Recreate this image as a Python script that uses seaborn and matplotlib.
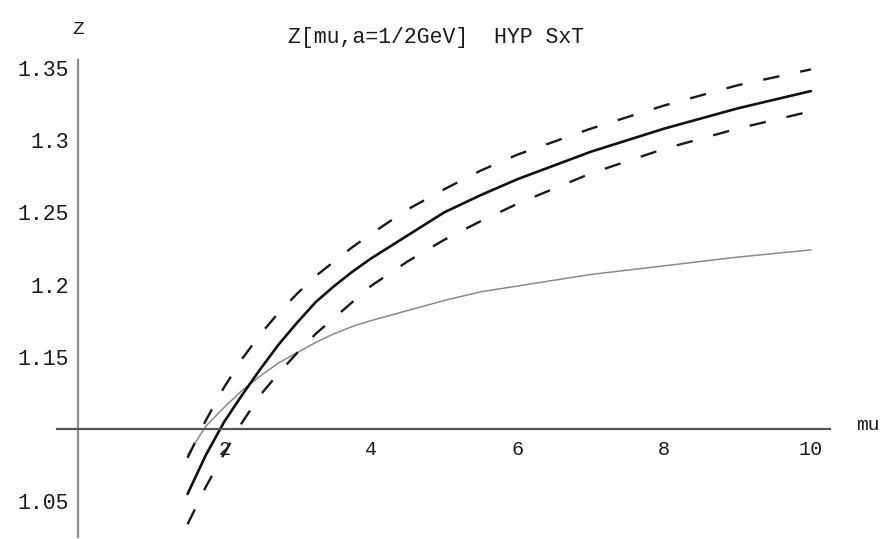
import matplotlib
matplotlib.use("Agg")
import matplotlib.pyplot as plt
import seaborn as sns
import pandas as pd

# ---- data ----
mu = [1.5, 1.75, 2.0, 2.25, 2.5, 2.75, 3.0, 3.25, 3.5, 3.75, 4.0, 4.5, 5.0, 5.5, 6.0, 7.0, 8.0, 9.0, 10.0]
z_central = [1.055, 1.082, 1.105, 1.124, 1.142, 1.159, 1.174, 1.188, 1.199, 1.209, 1.218,
             1.234, 1.250, 1.262, 1.273, 1.292, 1.308, 1.322, 1.334]
z_upper = [1.080, 1.106, 1.129, 1.149, 1.166, 1.181, 1.194, 1.206, 1.216, 1.226, 1.235,
           1.252, 1.266, 1.279, 1.290, 1.308, 1.324, 1.338, 1.349]
z_lower = [1.034, 1.060, 1.083, 1.105, 1.124, 1.139, 1.153, 1.166, 1.177, 1.188, 1.199,
           1.216, 1.231, 1.244, 1.256, 1.277, 1.294, 1.308, 1.320]
z_gray = [1.082, 1.102, 1.115, 1.127, 1.137, 1.146, 1.153, 1.160, 1.166, 1.171, 1.175,
          1.182, 1.189, 1.195, 1.199, 1.207, 1.213, 1.219, 1.224]

x_ticks = [2, 4, 6, 8, 10]
x_tick_labels = ["2", "4", "6", "8", "10"]
y_ticks = [1.05, 1.15, 1.2, 1.25, 1.3, 1.35]
y_tick_labels = ["1.05", "1.15", "1.2", "1.25", "1.3", "1.35"]
title = "Z[mu,a=1/2GeV]  HYP SxT"

sns.set_theme(style="white")
plt.rcParams["font.family"] = ["Liberation Mono", "DejaVu Sans Mono"]

fig = plt.figure(figsize=(8.89, 5.39), dpi=100)
ax = fig.add_axes([57 / 889, 2 / 539, (830 - 57) / 889, (537 - 60) / 539])

df = pd.DataFrame({"mu": mu, "central": z_central, "upper": z_upper,
                   "lower": z_lower, "gray": z_gray})

sns.lineplot(data=df, x="mu", y="gray", ax=ax, color="#8a8a8a", linewidth=1.1)
dash = (0, (7.0, 9.0))
sns.lineplot(data=df, x="mu", y="upper", ax=ax, color="#1a1a1a", linewidth=1.7)
ax.lines[-1].set_linestyle(dash)
sns.lineplot(data=df, x="mu", y="lower", ax=ax, color="#1a1a1a", linewidth=1.7)
ax.lines[-1].set_linestyle(dash)
sns.lineplot(data=df, x="mu", y="central", ax=ax, color="#111111", linewidth=1.9)

ax.set_xlim(-0.28, 10.26)
ax.set_ylim(1.0252, 1.3555)

for s in ["top", "right"]:
    ax.spines[s].set_visible(False)
ax.spines["left"].set_position(("data", 0))
ax.spines["bottom"].set_position(("data", 1.1))
ax.spines["left"].set_color("#8c8c8c")
ax.spines["left"].set_linewidth(1.6)
ax.spines["bottom"].set_color("#555555")
ax.spines["bottom"].set_linewidth(1.6)

ax.set_xticks(x_ticks)
ax.set_xticklabels(x_tick_labels)
ax.set_yticks(y_ticks)
ax.set_yticklabels(y_tick_labels)
ax.tick_params(axis="both", direction="in", length=4, width=1, color="#777777",
               labelcolor="#1a1a1a")
ax.tick_params(axis="x", pad=8, labelsize=14.5)
ax.tick_params(axis="y", pad=6, labelsize=15.5)
ax.set_xlabel("")
ax.set_ylabel("")

fig.text(78 / 889, 1 - 30 / 539, "Z", ha="center", va="center", fontsize=14, color="#1a1a1a")
fig.text(868 / 889, 1 - 425 / 539, "mu", ha="center", va="center", fontsize=14, color="#1a1a1a")
fig.text(436 / 889, 1 - 38 / 539, title, ha="center", va="center", fontsize=15.5, color="#1a1a1a")

fig.savefig("out.png", dpi=100, facecolor="white")
